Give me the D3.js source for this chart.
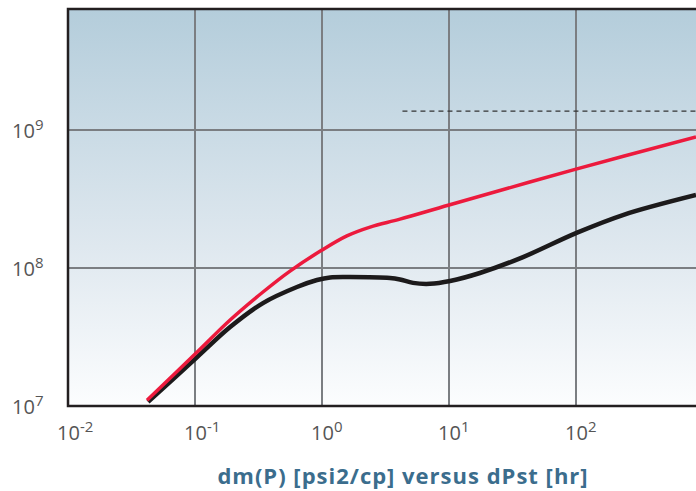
<!DOCTYPE html>
<html>
<head>
<meta charset="utf-8">
<script src="https://cdn.jsdelivr.net/npm/d3@7"></script>
<style>
  body { margin: 0; background: #fff; }
  svg { display: block; }
</style>
</head>
<body>
<div id="grafica"></div>
<script>
// tick decades
const xTicks = [0.01, 0.1, 1, 10, 100]
const xTickExp = ['-2', '-1', '0', '1', '2']
const yTicks = [1e7, 1e8, 1e9]
const yTickExp = ['7', '8', '9']

// dm(P) curve (red)
const redX = [0.0419, 0.104, 0.189, 0.343, 0.560, 1.0, 1.57, 2.39, 4.11, 10.0, 100, 881]
const redY = [1.10e7, 2.46e7, 4.20e7, 6.70e7, 9.50e7, 1.35e8, 1.71e8, 1.98e8, 2.26e8, 2.86e8, 5.21e8, 8.89e8]

// derivative curve (black)
const blackX = [0.0427, 0.104, 0.189, 0.343, 0.635, 0.914, 1.16, 1.66, 3.43, 4.11, 5.21, 7.08, 10.2, 17.5, 38.3, 100, 234, 881]
const blackY = [1.07e7, 2.26e7, 3.73e7, 5.57e7, 7.28e7, 8.18e7, 8.55e7, 8.61e7, 8.47e7, 8.26e7, 7.80e7, 7.68e7, 8.05e7, 9.20e7, 1.20e8, 1.79e8, 2.42e8, 3.38e8]

// dashed reference level
const dashX = [4.3, 1000]
const dashY = [1.37e9, 1.37e9]

const width = 696
const height = 491
const margenIzq = 68, margenSup = 9, margenInf = 406
const decadeX = 127, decadeY = 138
var gridColor = '#7b7e82'
var frameColor = '#231f20'
var labelColor = '#555555'

const svg = d3.select('#grafica')
    .append('svg')
    .attr('width', width)
    .attr('height', height)

const x = d3.scaleLog()
    .domain([0.01, 1000])
    .range([margenIzq, margenIzq + 5 * decadeX])

const y = d3.scaleLog()
    .domain([1e7, 1e10])
    .range([margenInf, margenInf - 3 * decadeY])

// background gradient
const defs = svg.append('defs')
const grad = defs.append('linearGradient')
    .attr('id', 'fondo')
    .attr('x1', 0).attr('y1', 0).attr('x2', 0).attr('y2', 1)
grad.append('stop').attr('offset', '0%').attr('stop-color', '#b4cddb')
grad.append('stop').attr('offset', '60%').attr('stop-color', '#dfe8ef')
grad.append('stop').attr('offset', '100%').attr('stop-color', '#fcfdfe')

defs.append('clipPath').attr('id', 'recorte')
    .append('rect')
    .attr('x', margenIzq).attr('y', margenSup)
    .attr('width', width - margenIzq).attr('height', margenInf - margenSup)

svg.append('rect')
    .attr('x', margenIzq).attr('y', margenSup)
    .attr('width', width - margenIzq).attr('height', margenInf - margenSup)
    .attr('fill', 'url(#fondo)')

const plot = svg.append('g').attr('clip-path', 'url(#recorte)')

// grid
plot.selectAll('.gx')
    .data(xTicks.slice(1))
    .enter().append('line')
    .attr('x1', d => x(d)).attr('x2', d => x(d))
    .attr('y1', margenSup).attr('y2', margenInf)
    .attr('stroke', gridColor).attr('stroke-width', 2)

plot.selectAll('.gy')
    .data(yTicks.slice(1))
    .enter().append('line')
    .attr('x1', margenIzq).attr('x2', width)
    .attr('y1', d => y(d)).attr('y2', d => y(d))
    .attr('stroke', gridColor).attr('stroke-width', 2)

// dashed line
plot.append('line')
    .attr('x1', x(dashX[0])).attr('x2', x(dashX[1]))
    .attr('y1', y(dashY[0])).attr('y2', y(dashY[1]))
    .attr('stroke', '#333').attr('stroke-width', 1.2)
    .attr('stroke-dasharray', '5,4')

const line = d3.line()
    .x(d => x(d[0]))
    .y(d => y(d[1]))
    .curve(d3.curveCatmullRom.alpha(0.5))

plot.append('path')
    .datum(blackX.map((v, i) => [v, blackY[i]]))
    .attr('d', line)
    .attr('fill', 'none')
    .attr('stroke', '#1c1a1b')
    .attr('stroke-width', 4.5)

plot.append('path')
    .datum(redX.map((v, i) => [v, redY[i]]))
    .attr('d', line)
    .attr('fill', 'none')
    .attr('stroke', '#ec1a3d')
    .attr('stroke-width', 3.5)

// frame (left, top, bottom)
svg.append('path')
    .attr('d', `M${width},${margenSup}H${margenIzq}V${margenInf}H${width}`)
    .attr('fill', 'none')
    .attr('stroke', frameColor)
    .attr('stroke-width', 2.5)

// x tick labels
const xl = svg.selectAll('.xl')
    .data(xTicks)
    .enter().append('text')
    .attr('x', d => x(d) - 11)
    .attr('y', 440)
    .style('font-family', 'Open Sans, sans-serif')
    .style('font-size', '20px')
    .style('fill', labelColor)
xl.append('tspan').text('10')
xl.append('tspan')
    .attr('dy', -8)
    .style('font-size', '15px')
    .text((d, i) => xTickExp[i])

// y tick labels
const yl = svg.selectAll('.yl')
    .data(yTicks)
    .enter().append('text')
    .attr('x', 12)
    .attr('y', d => y(d) + 8)
    .style('font-family', 'Open Sans, sans-serif')
    .style('font-size', '20px')
    .style('fill', labelColor)
yl.append('tspan').text('10')
yl.append('tspan')
    .attr('dy', -8)
    .style('font-size', '15px')
    .text((d, i) => yTickExp[i])

// title
svg.append('text')
    .attr('x', 403)
    .attr('y', 484)
    .style('text-anchor', 'middle')
    .style('font-family', 'Open Sans, sans-serif')
    .style('font-weight', 'bold')
    .style('font-size', '22px')
    .style('letter-spacing', '1px')
    .style('fill', '#3b6d8d')
    .text('dm(P) [psi2/cp] versus dPst [hr]')
</script>
</body>
</html>
